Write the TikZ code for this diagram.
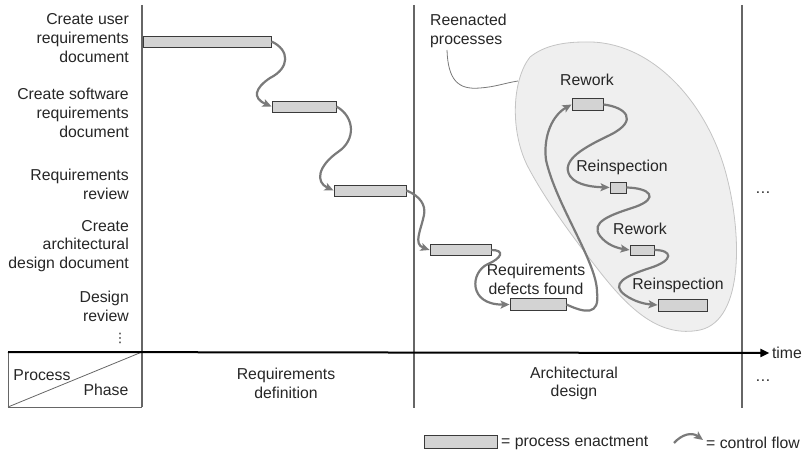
\documentclass[tikz,border=0pt]{standalone}
\usepackage{fontspec}
\setmainfont{Liberation Sans}
\newfontfamily\symfont{DejaVu Sans}
\usetikzlibrary{arrows.meta}
\definecolor{barfill}{HTML}{D3D3D3}
\definecolor{barline}{HTML}{3A3A3A}
\definecolor{flowgray}{HTML}{7A7A7A}
\definecolor{blobfill}{HTML}{EFEFEF}
\definecolor{blobline}{HTML}{C4C4C4}
\definecolor{gridgray}{HTML}{666666}
\begin{document}
\begin{tikzpicture}[x=1pt,y=-1pt,
  font=\fontsize{15.8}{18.8}\selectfont,
  bar/.style={draw=barline, fill=barfill, line width=0.9pt, inner sep=0pt, minimum height=11pt},
  flow/.style={draw=flowgray, line width=2.2pt, -{Stealth[length=9pt,width=8pt,inset=2pt]}},
  label/.style={inner sep=0pt, text=black!85},
  proclabel/.style={label, anchor=east, align=right},
  grid/.style={draw=gridgray, line width=1.3pt},
  pointer/.style={draw=flowgray, line width=0.8pt}]
\useasboundingbox (0,0) rectangle (803,454);

% region of reenacted processes
\draw[fill=blobfill, draw=blobline, line width=0.8pt]
  (585,42) .. controls (650,40) and (705,100) .. (725,170)
  .. controls (742,230) and (745,320) .. (700,330)
  .. controls (660,338) and (630,310) .. (600,272)
  .. controls (575,240) and (545,200) .. (527,165)
  .. controls (510,130) and (512,80) .. (530,57)
  .. controls (545,45) and (565,42) .. (585,42) -- cycle;

% phase separators and time axis
\draw[grid] (142,5) -- (142,407);
\draw[grid] (414,5) -- (414,408);
\draw[grid] (742,5) -- (742,408);
\draw[draw=gridgray, line width=1pt] (8,352) -- (8,407) -- (142,407);
\draw[draw=gridgray, line width=0.8pt] (8,407) -- (142,352);
\node[label, inner sep=2.5pt] (time) at (787,353) {time};
\draw[line width=2pt, -{Triangle[length=9pt,width=8pt]}] (8,352) -- (time.west);

% process names
\node[proclabel] (p1) at (129,38) {Create user\\requirements\\document};
\node[proclabel] (p2) at (129,113) {Create software\\requirements\\document};
\node[proclabel] (p3) at (129,184.5) {Requirements\\review};
\node[proclabel] (p4) at (129,246) {Create\\architectural\\design document};
\node[proclabel] (p5) at (129,306.5) {Design\\review};
\node[label, font=\symfont\fontsize{13}{14}\selectfont] (pdots) at (120,338) {⋮};

% corner cell
\node[label] (proc) at (42,375) {Process};
\node[label] (phase) at (106,390) {Phase};

% phases
\node[label, align=center] (ph1) at (286,383.5) {Requirements\\definition};
\node[label, align=center] (ph2) at (574,383.5) {Architectural\\design};
\node[label] (mdots) at (763,193) {\dots};
\node[label] (bdots) at (763,381) {\dots};

% enactments
\node[bar, minimum width=128pt] (b1) at (207,41.5) {};
\node[bar, minimum width=64pt] (b2) at (304,106.5) {};
\node[bar, minimum width=72pt] (b3) at (370,190.5) {};
\node[bar, minimum width=61pt] (b4) at (460.5,250) {};
\node[bar, minimum width=56pt, minimum height=12pt] (b5) at (538,304.5) {};
\node[bar, minimum width=31pt, minimum height=12pt] (b6) at (587.5,104.5) {};
\node[bar, minimum width=16pt] (b7) at (618,187.5) {};
\node[bar, minimum width=24pt, minimum height=10pt] (b8) at (642,250) {};
\node[bar, minimum width=49pt, minimum height=12pt] (b9) at (682.5,305) {};

% enactment labels
\node[label, align=center] (l5) at (536,279.5) {Requirements\\defects found};
\node[label] (l6) at (587,80) {Rework};
\node[label] (l7) at (622,167) {Reinspection};
\node[label] (l8) at (640,229) {Rework};
\node[label] (l9) at (678,285) {Reinspection};

% annotation of the reenacted region
\node[label, anchor=west, align=left] (reen) at (430,31) {Reenacted\\processes};
\coordinate (ptr) at (447,50);
\coordinate (blobtouch) at (518,81);
\draw[pointer] (ptr) .. controls (448,80) and (458,90) .. (480,88)
  .. controls (495,87) and (505,83) .. (blobtouch);

% control flow
\draw[flow] (b1.east) .. controls (290,50) and (290,68) .. (270,78)
  .. controls (255,88) and (252,98) .. (b2.west);
\draw[flow] (b2.east) .. controls (355,117) and (356,140) .. (338,152)
  .. controls (318,166) and (315,182) .. (b3.west);
\draw[flow] (b3.east) .. controls (420,196) and (426,205) .. (424,215)
  .. controls (421,230) and (413,244) .. (b4.west);
\draw[flow] (b4.east) .. controls (505,250) and (502,258) .. (488,264)
  .. controls (470,272) and (468,305) .. (b5.west);
\draw[flow] (b5.east) .. controls (585,313) and (600,316) .. (597,292)
  .. controls (597,262) and (556,205) .. (546,160)
  .. controls (543,135) and (553,115) .. (b6.west);
\draw[flow] (b6.east) .. controls (625,107) and (640,120) .. (610,135)
  .. controls (585,147) and (560,160) .. (570,176)
  .. controls (577,186) and (595,187) .. (b7.west);
\draw[flow] (b7.east) .. controls (650,188) and (660,198) .. (635,207)
  .. controls (610,215) and (590,222) .. (600,236)
  .. controls (607,245) and (617,248) .. (b8.west);
\draw[flow] (b8.east) .. controls (672,250) and (675,260) .. (650,268)
  .. controls (625,276) and (610,284) .. (625,295)
  .. controls (635,302) and (645,304) .. (b9.west);

% legend
\node[bar, minimum width=73pt, minimum height=13pt] (lgbar) at (460.5,441.5) {};
\node[label, anchor=west] (lgbartext) at (501,443) {= process enactment};
\coordinate (cfA) at (674,443);
\coordinate (cfB) at (703,440);
\draw[flow] (cfA) .. controls (682,434) and (692,432) .. (cfB);
\node[label, anchor=west] (lgflowtext) at (706,443) {= control flow};
\end{tikzpicture}
\end{document}
